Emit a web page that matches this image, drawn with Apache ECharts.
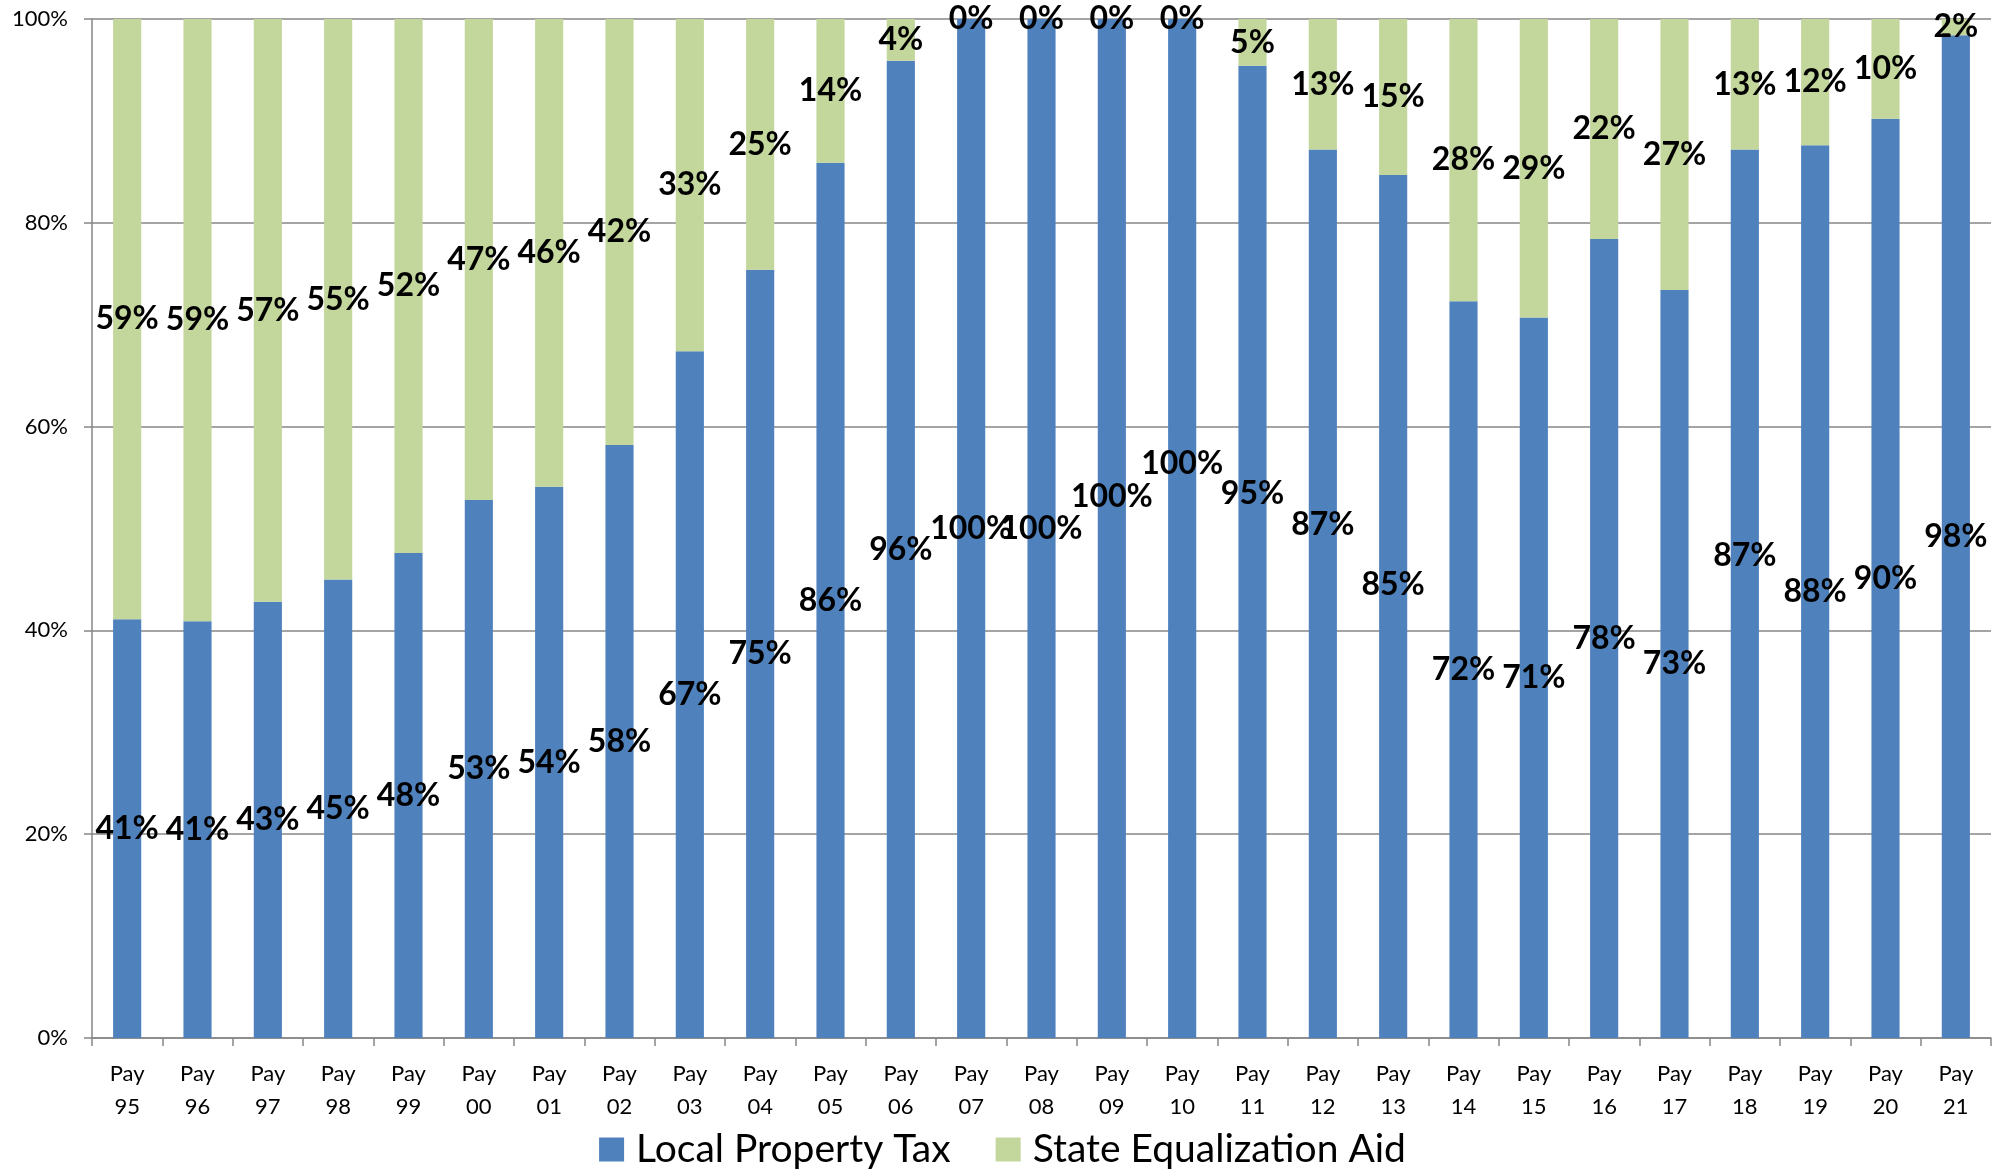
<!DOCTYPE html>
<html>
<head>
<meta charset="utf-8">
<script src="https://cdn.jsdelivr.net/npm/echarts@6/dist/echarts.min.js"></script>
<style>
html,body{margin:0;padding:0;background:#fff;}
#chart{width:2005px;height:1173px;}
</style>
</head>
<body>
<div id="chart"></div>
<script>
const categories = ['Pay 95','Pay 96','Pay 97','Pay 98','Pay 99','Pay 00','Pay 01','Pay 02','Pay 03','Pay 04','Pay 05','Pay 06','Pay 07','Pay 08','Pay 09','Pay 10','Pay 11','Pay 12','Pay 13','Pay 14','Pay 15','Pay 16','Pay 17','Pay 18','Pay 19','Pay 20','Pay 21'];
const localPropertyTax = [41.1,40.9,42.8,45.0,47.6,52.8,54.1,58.2,67.4,75.4,85.9,95.9,100,100,100,100,95.4,87.2,84.7,72.3,70.7,78.4,73.4,87.2,87.6,90.2,98.4];
const stateEqualizationAid = [58.9,59.1,57.2,55.0,52.4,47.2,45.9,41.8,32.6,24.6,14.1,4.1,0,0,0,0,4.6,12.8,15.3,27.7,29.3,21.6,26.6,12.8,12.4,9.8,1.6];
const yTicks = ['0%','20%','40%','60%','80%','100%'];

// manually dragged data labels in the original (vertical shift in px, by category)
const localLabelShift = {'Pay 09': -32, 'Pay 10': -65, 'Pay 11': -58, 'Pay 12': -69, 'Pay 13': -22, 'Pay 18': -38};

const FONT = 'Lato';
const labelStyle = {
  show: true,
  position: 'inside',
  color: '#000',
  fontFamily: FONT,
  fontWeight: 'bold',
  fontSize: 32,
  formatter: p => Math.round(p.value) + '%'
};

const localData = localPropertyTax.map((v, i) => {
  const s = localLabelShift[categories[i]];
  return s ? {value: v, label: {offset: [0, s]}} : v;
});

const chart = echarts.init(document.getElementById('chart'));
chart.setOption({
  backgroundColor: '#fff',
  animation: false,
  grid: {left: 92, right: 14, top: 19, bottom: 135, containLabel: false},
  legend: {
    bottom: -1,
    left: 'center',
    itemWidth: 25,
    itemHeight: 24,
    itemGap: 45,
    icon: 'rect',
    textStyle: {fontFamily: FONT, fontSize: 39, color: '#000', padding: [0,0,0,7]},
    data: ['Local Property Tax', 'State Equalization Aid']
  },
  xAxis: {
    type: 'category',
    data: categories,
    axisLine: {lineStyle: {color: '#868686', width: 1.5}},
    axisTick: {show: true, length: 8, alignWithLabel: false, lineStyle: {color: '#868686', width: 1.5}},
    axisLabel: {
      interval: 0,
      margin: 19,
      fontFamily: FONT,
      fontSize: 22,
      lineHeight: 33,
      color: '#000',
      formatter: v => v.replace(' ', '\n')
    }
  },
  yAxis: {
    type: 'value',
    min: 0,
    max: 100,
    interval: 20,
    axisLine: {show: true, lineStyle: {color: '#868686', width: 1.5}},
    axisTick: {show: true, length: 8, lineStyle: {color: '#868686', width: 1.5}},
    splitLine: {lineStyle: {color: '#868686', width: 1.5}},
    axisLabel: {
      margin: 24,
      fontFamily: FONT,
      fontSize: 22,
      color: '#000',
      formatter: v => yTicks[Math.round(v / 20)]
    }
  },
  series: [
    {
      name: 'Local Property Tax',
      type: 'bar',
      stack: 'total',
      barWidth: '40%',
      itemStyle: {color: '#4F81BD'},
      label: labelStyle,
      data: localData
    },
    {
      name: 'State Equalization Aid',
      type: 'bar',
      stack: 'total',
      barWidth: '40%',
      itemStyle: {color: '#C3D69B'},
      label: labelStyle,
      data: stateEqualizationAid
    }
  ]
});
</script>
</body>
</html>
